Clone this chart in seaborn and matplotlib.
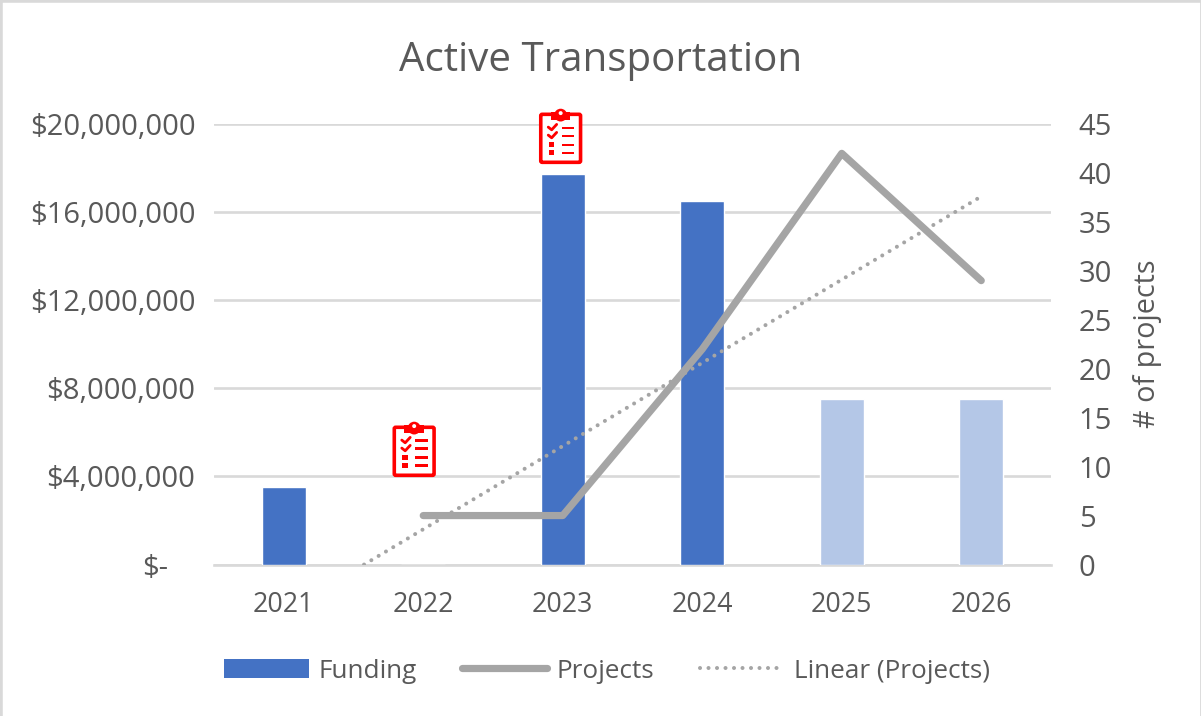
import numpy as np
import pandas as pd
import matplotlib
matplotlib.use("Agg")
import matplotlib.pyplot as plt
import matplotlib.patches as pat
import seaborn as sns
from matplotlib.lines import Line2D
from matplotlib.offsetbox import AnnotationBbox, DrawingArea
from matplotlib.ticker import FuncFormatter
from matplotlib.transforms import ScaledTranslation

years = ["2021", "2022", "2023", "2024", "2025", "2026"]
funding = [3520000, 0, 17720000, 16510000, 7510000, 7510000]
projects = [np.nan, 5, 5, 22, 42, 29]
bar_colors = ["#4472C4", "#4472C4", "#4472C4", "#4472C4", "#B4C7E7", "#B4C7E7"]
funding_ticks = [0, 4000000, 8000000, 12000000, 16000000, 20000000]
project_ticks = [0, 5, 10, 15, 20, 25, 30, 35, 40, 45]
icon_x = [0.935, 1.985]
icon_y = [5240000, 19450000]

TXT = "#595959"
GRID = "#D9D9D9"
GREY = "#A5A5A5"
RED = "#FF0000"

sns.set_theme(style="white")
plt.rcParams["font.family"] = ["Open Sans", "DejaVu Sans"]

W, H = 1201, 716
fig = plt.figure(figsize=(W / 100, H / 100), dpi=100)
ax = fig.add_axes([214 / W, 1 - 564.5 / H, (1051 - 214) / W, (564.5 - 124) / H])

df = pd.DataFrame({"year": years, "funding": funding, "projects": projects})


def clipboard(ax2, x, y):
    # red clipboard icon, drawn in pixels from its lower left corner
    px = 0.72
    da = DrawingArea(43.4 * px, 56 * px, 0, 0)

    def add_rect(x0, y0, w, h, **kw):
        da.add_artist(pat.Rectangle((x0 * px, y0 * px), w * px, h * px, lw=0, fc=RED, **kw))

    da.add_artist(pat.FancyBboxPatch((1.8 * px, 1.8 * px), 39.8 * px, 48 * px,
                                     boxstyle=f"round,pad=0,rounding_size={1.5 * px}",
                                     fc="white", ec=RED, lw=3.6 * px))
    da.add_artist(pat.Circle((21.7 * px, 49 * px), 6.4 * px, fc=RED, lw=0))
    add_rect(12, 43.7, 19.4, 8)
    da.add_artist(pat.Circle((21.7 * px, 51 * px), 2 * px, fc="white", lw=0))
    for row in [36.3, 28.3, 19.3, 11.3]:
        add_rect(23, row - 1.3, 12.5, 2.6)
    for row in [19.3, 11.3]:
        add_rect(10, row - 2.6, 5.2, 5.2)
    for row in [0, 8]:
        da.add_artist(Line2D(np.array([9.3, 12.7, 17.7]) * px,
                             (np.array([37, 34.3, 39.7]) - row) * px,
                             color=RED, lw=2.8 * px))
    ab = AnnotationBbox(da, (x, y), xycoords=("data", "data"), frameon=False,
                        pad=0, box_alignment=(0.5, 0.5), annotation_clip=False, zorder=6)
    ax2.add_artist(ab)


sns.barplot(data=df, x="year", y="funding", hue="year", palette=bar_colors, legend=False,
            width=0.315, saturation=1, ax=ax, zorder=3)
ax.set_xlim(-0.5, 5.5)
ax.set_ylim(0, 20000000)
ax.set_yticks(funding_ticks)
ax.yaxis.set_major_formatter(FuncFormatter(lambda v, p: f"${v:,.0f}" if v > 0 else "$-"))
ax.set_xlabel("")
ax.set_ylabel("")
ax.grid(axis="y", color=GRID, lw=1.9, zorder=0)
ax.set_axisbelow(True)
ax.tick_params(axis="x", length=0, pad=19, labelsize=19.3, labelcolor=TXT)
ax.tick_params(axis="y", length=0, pad=13.5, labelsize=21, labelcolor=TXT)
for s in ["top", "left", "right"]:
    ax.spines[s].set_visible(False)
ax.spines["bottom"].set_color(GRID)
ax.spines["bottom"].set_linewidth(1.9)

# the "$-" label sits further in, like the accounting format
zero_label = ax.get_yticklabels()[0]
zero_label.set_transform(zero_label.get_transform() + ScaledTranslation(-27 / 100, 0, fig.dpi_scale_trans))

ax2 = ax.twinx()
pos = np.arange(len(years))
ok = ~np.isnan(df["projects"].to_numpy())
slope, icpt = np.polyfit(pos[ok], df["projects"].to_numpy()[ok], 1)
sns.lineplot(x=pos, y=icpt + slope * pos, ax=ax2, color=GREY, lw=2.9, zorder=3,
             linestyle=(0, (0.01, 2.1)), dash_capstyle="round")
sns.lineplot(x=pos[ok], y=df["projects"].to_numpy()[ok], ax=ax2, color=GREY, lw=5.2, zorder=4)
ax2.set_ylim(0, 45)
ax2.set_yticks(project_ticks)
ax2.set_ylabel("# of projects", fontsize=20.7, color=TXT, labelpad=15)
ax2.tick_params(axis="y", length=0, pad=20, labelsize=21, labelcolor=TXT)
for s in ax2.spines.values():
    s.set_visible(False)

for x, y in zip(icon_x, icon_y):
    clipboard(ax2, x, y * 45 / 20000000)

fig.text(601 / W, 1 - 61 / H, "Active Transportation", fontsize=29, color=TXT, ha="center", va="center")

handles = [pat.Patch(color="#4472C4", lw=0),
           Line2D([], [], color=GREY, lw=5.2, solid_capstyle="round"),
           Line2D([], [], color=GREY, lw=2.9, linestyle=(0, (0.01, 2.1)), dash_capstyle="round")]
fig.legend(handles, ["Funding", "Projects", "Linear (Projects)"], ncol=3, frameon=False,
           loc="center", bbox_to_anchor=(607 / W, 1 - 671 / H), fontsize=18.8, labelcolor=TXT,
           handlelength=3.25, handletextpad=0.35, columnspacing=1.75)

# chart border: heavier on the top and left, none along the bottom
fig.add_artist(Line2D([0, 1], [1, 1], transform=fig.transFigure, color=GRID, lw=4))
fig.add_artist(Line2D([0, 0], [0, 1], transform=fig.transFigure, color=GRID, lw=4))
fig.add_artist(Line2D([1, 1], [0, 1], transform=fig.transFigure, color=GRID, lw=2))

fig.savefig("out.png", dpi=100)
